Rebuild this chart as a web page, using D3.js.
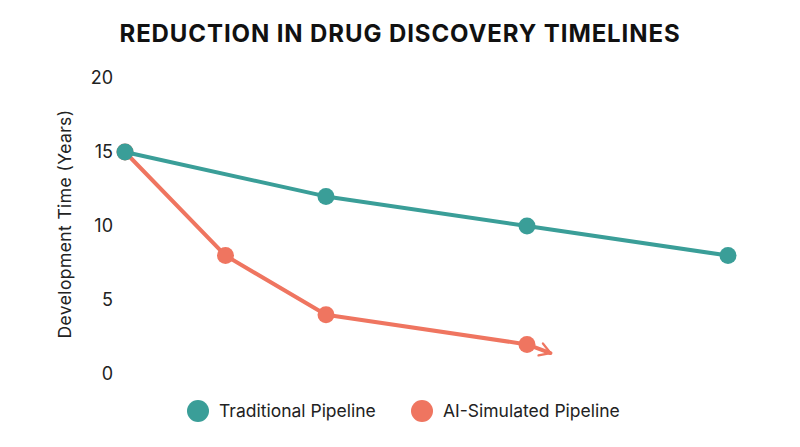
<!DOCTYPE html>
<html><head><meta charset="utf-8">
<script src="https://cdn.jsdelivr.net/npm/d3@7"></script>
<style>body{margin:0;background:#fff;} text{font-family:Inter,"Noto Sans",sans-serif;}</style>
</head><body>
<svg id="c" width="800" height="447"></svg>
<script>
const stages = [0, 1, 2, 4, 6];
const traditionalX = [0, 2, 4, 6];
const traditionalY = [15, 12, 10, 8];
const aiX = [0, 1, 2, 4];
const aiY = [15, 8, 4, 2];
const aiTrendNext = [6, -3]; // direction target of the continuing arrow
const yTicks = [0, 5, 10, 15, 20];
const seriesNames = ["Traditional Pipeline", "AI-Simulated Pipeline"];
const colors = ["#3a9e98", "#ef7560"];

const svg = d3.select("#c");
const x = d3.scaleLinear().domain([0, 6]).range([125, 728]);
const y = d3.scaleLinear().domain([0, 20]).range([374, 78]);

svg.append("text").attr("x", 400).attr("y", 42).attr("text-anchor", "middle")
  .attr("font-size", 24).attr("font-weight", 700).attr("fill", "#111")
  .attr("letter-spacing", 0.9)
  .text("REDUCTION IN DRUG DISCOVERY TIMELINES");

const yAxis = svg.append("g").attr("transform", "translate(113,0)")
  .call(d3.axisLeft(y).tickValues(yTicks).tickSize(0).tickPadding(0));
yAxis.select(".domain").remove();
yAxis.selectAll("text").attr("font-size", 18).attr("fill", "#222")
  .attr("font-family", "Inter, sans-serif");

svg.append("text").attr("transform", "translate(71,224) rotate(-90)")
  .attr("text-anchor", "middle").attr("font-size", 17.5).attr("fill", "#222")
  .attr("letter-spacing", 0.4)
  .text("Development Time (Years)");

const defs = svg.append("defs");
defs.append("marker").attr("id", "arr").attr("viewBox", "0 0 10 10")
  .attr("refX", 8).attr("refY", 5).attr("markerWidth", 4).attr("markerHeight", 4)
  .attr("markerUnits", "strokeWidth").attr("orient", "auto")
  .append("path").attr("d", "M1.5,1 L8,5 L1.5,9").attr("fill", "none")
  .attr("stroke", colors[1]).attr("stroke-width", 1.4).attr("stroke-linecap", "round")
  .attr("stroke-linejoin", "round");

const line = d3.line().x(d => x(d[0])).y(d => y(d[1]));
const trad = traditionalX.map((v, i) => [v, traditionalY[i]]);
const ai = aiX.map((v, i) => [v, aiY[i]]);

// arrow continuation from last AI point
const last = ai[ai.length - 1];
const dx = x(aiTrendNext[0]) - x(last[0]), dy = y(aiTrendNext[1]) - y(last[1]);
const len = Math.hypot(dx, dy), L = 25;
svg.append("line").attr("x1", x(last[0])).attr("y1", y(last[1]))
  .attr("x2", x(last[0]) + dx / len * L).attr("y2", y(last[1]) + dy / len * L)
  .attr("stroke", colors[1]).attr("stroke-width", 4).attr("stroke-linecap", "round")
  .attr("marker-end", "url(#arr)");

[[ai, 1], [trad, 0]].forEach(([data, k]) => {
  svg.append("path").datum(data).attr("d", line).attr("fill", "none")
    .attr("stroke", colors[k]).attr("stroke-width", 4).attr("stroke-linejoin", "round");
  svg.selectAll(null).data(data).enter().append("circle")
    .attr("cx", d => x(d[0])).attr("cy", d => y(d[1])).attr("r", 8.5).attr("fill", colors[k]);
});

const legendX = [198, 422];
seriesNames.forEach((n, i) => {
  svg.append("circle").attr("cx", legendX[i]).attr("cy", 411).attr("r", 11).attr("fill", colors[i]);
  svg.append("text").attr("x", legendX[i] + 21).attr("y", 417).attr("font-size", 17.5)
    .attr("fill", "#222").text(n);
});
</script>
</body></html>
